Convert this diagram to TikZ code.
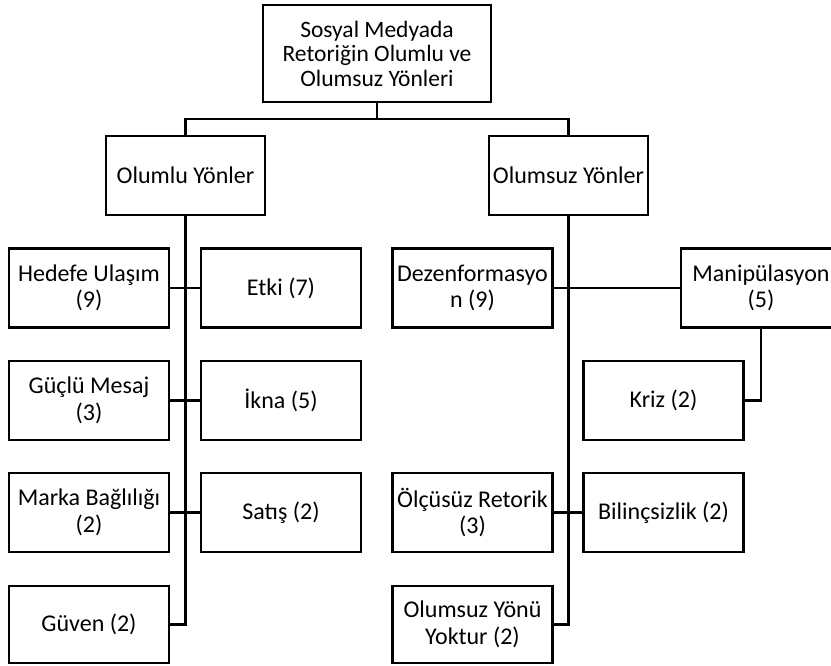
\documentclass[tikz,border=0pt]{standalone}
\usepackage{fontspec}
\setmainfont{Carlito}
\begin{document}
\begin{tikzpicture}[x=1pt,y=-1pt,
  box/.style={draw=black,line width=2.7pt,fill=white,minimum width=160pt,minimum height=79pt,
    inner sep=0pt,align=center,font=\fontsize{24}{26.5}\selectfont},
  link/.style={draw=black,line width=2.6pt}]
\fill[white] (0,0) rectangle (831,665);
\useasboundingbox (0,0) rectangle (831,665);

% root and the two branches
\node[box,minimum width=228pt,minimum height=97pt,font=\fontsize{23.5}{24.5}\selectfont] (top) at (377,53.5)
  {Sosyal Medyada\\Retoriğin Olumlu ve\\Olumsuz Yönleri};
\node[box,minimum width=159pt] (olumlu) at (185.5,175.5) {Olumlu Yönler};
\node[box,minimum width=159pt] (olumsuz) at (568.5,175.5) {Olumsuz Yönler};
\coordinate (bus) at (377,119);

% positive aspects
\node[box] (hedefe) at (89,288) {Hedefe Ulaşım\\(9)};
\node[box] (etki) at (281,288) {Etki (7)};
\node[box] (guclu) at (89,400.5) {Güçlü Mesaj\\(3)};
\node[box] (ikna) at (281,400.5) {İkna (5)};
\node[box] (marka) at (89,512.5) {Marka Bağlılığı\\(2)};
\node[box] (satis) at (281,512.5) {Satış (2)};
\node[box,minimum height=77pt] (guven) at (89,624.5) {Güven (2)};

% negative aspects
\node[box] (dezen) at (472.5,288) {Dezenformasyo\\n (9)};
\node[box] (manip) at (761,288) {Manipülasyon\\(5)};
\node[box] (kriz) at (663.5,400.5) {Kriz (2)};
\node[box] (olcusuz) at (472.5,512.5) {Ölçüsüz Retorik\\(3)};
\node[box] (bilinc) at (663.5,512.5) {Bilinçsizlik (2)};
\node[box,minimum height=77pt] (yoktur) at (472.5,624.5) {Olumsuz Yönü\\Yoktur (2)};

% connectors
\draw[link] (top.south) -- (bus);
\draw[link] (olumlu.north) |- (bus) -| (olumsuz.north);
\draw[link] (olumlu.south) |- (guven.east);
\draw[link] (hedefe.east) -- (etki.west);
\draw[link] (guclu.east) -- (ikna.west);
\draw[link] (marka.east) -- (satis.west);
\draw[link] (olumsuz.south) |- (yoktur.east);
\draw[link] (dezen.east) -- (manip.west);
\draw[link] (olcusuz.east) -- (bilinc.west);
\draw[link] (manip.south) |- (kriz.east);
\end{tikzpicture}
\end{document}
